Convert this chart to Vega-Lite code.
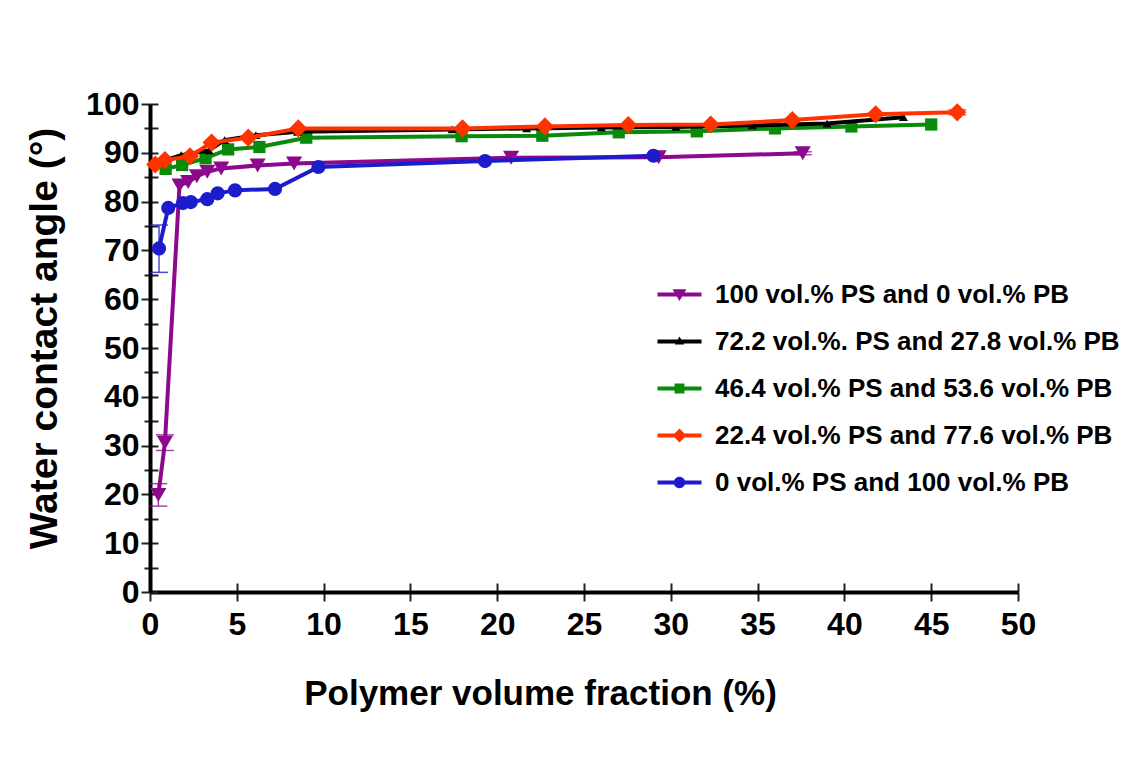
{
  "$schema": "https://vega.github.io/schema/vega-lite/v6.json",
  "width": 868,
  "height": 488,
  "autosize": {"type": "none"},
  "padding": {"left": 150, "top": 104, "right": 119, "bottom": 168},
  "background": "white",
  "config": {
    "view": {"stroke": null},
    "font": "Liberation Sans"
  },
  "data": {
    "values": [
      {"series": "100 vol.% PS and 0 vol.% PB", "x": 0.48, "y": 19.9, "lo": 17.6, "hi": 22.2},
      {"series": "100 vol.% PS and 0 vol.% PB", "x": 0.86, "y": 30.6, "lo": 29.0, "hi": 32.2},
      {"series": "100 vol.% PS and 0 vol.% PB", "x": 1.7, "y": 83.3},
      {"series": "100 vol.% PS and 0 vol.% PB", "x": 2.2, "y": 84.0},
      {"series": "100 vol.% PS and 0 vol.% PB", "x": 2.7, "y": 85.2},
      {"series": "100 vol.% PS and 0 vol.% PB", "x": 3.3, "y": 86.1},
      {"series": "100 vol.% PS and 0 vol.% PB", "x": 4.1, "y": 86.8},
      {"series": "100 vol.% PS and 0 vol.% PB", "x": 6.2, "y": 87.4},
      {"series": "100 vol.% PS and 0 vol.% PB", "x": 8.3, "y": 87.8},
      {"series": "100 vol.% PS and 0 vol.% PB", "x": 20.8, "y": 89.0},
      {"series": "100 vol.% PS and 0 vol.% PB", "x": 29.3, "y": 89.1},
      {"series": "100 vol.% PS and 0 vol.% PB", "x": 37.6, "y": 89.9, "lo": 89.6, "hi": 90.2},
      {"series": "46.4 vol.% PS and 53.6 vol.% PB", "x": 0.9, "y": 86.7},
      {"series": "46.4 vol.% PS and 53.6 vol.% PB", "x": 1.85, "y": 87.5},
      {"series": "46.4 vol.% PS and 53.6 vol.% PB", "x": 3.2, "y": 88.9},
      {"series": "46.4 vol.% PS and 53.6 vol.% PB", "x": 4.5, "y": 90.7},
      {"series": "46.4 vol.% PS and 53.6 vol.% PB", "x": 6.3, "y": 91.2},
      {"series": "46.4 vol.% PS and 53.6 vol.% PB", "x": 9.0, "y": 93.1},
      {"series": "46.4 vol.% PS and 53.6 vol.% PB", "x": 17.95, "y": 93.4},
      {"series": "46.4 vol.% PS and 53.6 vol.% PB", "x": 22.6, "y": 93.5},
      {"series": "46.4 vol.% PS and 53.6 vol.% PB", "x": 27.0, "y": 94.2},
      {"series": "46.4 vol.% PS and 53.6 vol.% PB", "x": 31.5, "y": 94.4},
      {"series": "46.4 vol.% PS and 53.6 vol.% PB", "x": 36.0, "y": 95.0},
      {"series": "46.4 vol.% PS and 53.6 vol.% PB", "x": 40.4, "y": 95.4},
      {"series": "46.4 vol.% PS and 53.6 vol.% PB", "x": 45.0, "y": 95.8},
      {"series": "72.2 vol.%. PS and 27.8 vol.% PB", "x": 0.4, "y": 88.0},
      {"series": "72.2 vol.%. PS and 27.8 vol.% PB", "x": 1.8, "y": 89.5},
      {"series": "72.2 vol.%. PS and 27.8 vol.% PB", "x": 3.4, "y": 90.5},
      {"series": "72.2 vol.%. PS and 27.8 vol.% PB", "x": 4.3, "y": 92.6},
      {"series": "72.2 vol.%. PS and 27.8 vol.% PB", "x": 6.1, "y": 93.6},
      {"series": "72.2 vol.%. PS and 27.8 vol.% PB", "x": 8.5, "y": 94.3},
      {"series": "72.2 vol.%. PS and 27.8 vol.% PB", "x": 17.4, "y": 94.8},
      {"series": "72.2 vol.%. PS and 27.8 vol.% PB", "x": 21.7, "y": 95.0},
      {"series": "72.2 vol.%. PS and 27.8 vol.% PB", "x": 26.0, "y": 95.2},
      {"series": "72.2 vol.%. PS and 27.8 vol.% PB", "x": 30.3, "y": 95.3},
      {"series": "72.2 vol.%. PS and 27.8 vol.% PB", "x": 34.7, "y": 95.6},
      {"series": "72.2 vol.%. PS and 27.8 vol.% PB", "x": 39.0, "y": 96.0},
      {"series": "72.2 vol.%. PS and 27.8 vol.% PB", "x": 43.4, "y": 97.3},
      {"series": "0 vol.% PS and 100 vol.% PB", "x": 0.52, "y": 70.4, "lo": 65.5, "hi": 75.2},
      {"series": "0 vol.% PS and 100 vol.% PB", "x": 1.05, "y": 78.7},
      {"series": "0 vol.% PS and 100 vol.% PB", "x": 1.9, "y": 79.7},
      {"series": "0 vol.% PS and 100 vol.% PB", "x": 2.35, "y": 79.9},
      {"series": "0 vol.% PS and 100 vol.% PB", "x": 3.3, "y": 80.5},
      {"series": "0 vol.% PS and 100 vol.% PB", "x": 3.9, "y": 81.7},
      {"series": "0 vol.% PS and 100 vol.% PB", "x": 4.9, "y": 82.3},
      {"series": "0 vol.% PS and 100 vol.% PB", "x": 7.2, "y": 82.6},
      {"series": "0 vol.% PS and 100 vol.% PB", "x": 9.7, "y": 87.1},
      {"series": "0 vol.% PS and 100 vol.% PB", "x": 19.3, "y": 88.3},
      {"series": "0 vol.% PS and 100 vol.% PB", "x": 29.0, "y": 89.4},
      {"series": "22.4 vol.% PS and 77.6 vol.% PB", "x": 0.3, "y": 87.6},
      {"series": "22.4 vol.% PS and 77.6 vol.% PB", "x": 0.86, "y": 88.5},
      {"series": "22.4 vol.% PS and 77.6 vol.% PB", "x": 2.3, "y": 89.3},
      {"series": "22.4 vol.% PS and 77.6 vol.% PB", "x": 3.55, "y": 92.1},
      {"series": "22.4 vol.% PS and 77.6 vol.% PB", "x": 5.66, "y": 93.1},
      {"series": "22.4 vol.% PS and 77.6 vol.% PB", "x": 8.54, "y": 95.0},
      {"series": "22.4 vol.% PS and 77.6 vol.% PB", "x": 18.0, "y": 95.0},
      {"series": "22.4 vol.% PS and 77.6 vol.% PB", "x": 22.75, "y": 95.4},
      {"series": "22.4 vol.% PS and 77.6 vol.% PB", "x": 27.55, "y": 95.7},
      {"series": "22.4 vol.% PS and 77.6 vol.% PB", "x": 32.3, "y": 95.8},
      {"series": "22.4 vol.% PS and 77.6 vol.% PB", "x": 37.0, "y": 96.7},
      {"series": "22.4 vol.% PS and 77.6 vol.% PB", "x": 41.8, "y": 97.9},
      {"series": "22.4 vol.% PS and 77.6 vol.% PB", "x": 46.5, "y": 98.3, "lo": 97.8, "hi": 98.8}
    ]
  },
  "encoding": {
    "x": {"field": "x", "type": "quantitative", "scale": {"domain": [0, 50], "nice": false}, "axis": null},
    "y": {"field": "y", "type": "quantitative", "scale": {"domain": [0, 100], "nice": false}, "axis": null},
    "color": {
      "field": "series",
      "type": "nominal",
      "scale": {
        "domain": ["100 vol.% PS and 0 vol.% PB", "72.2 vol.%. PS and 27.8 vol.% PB", "46.4 vol.% PS and 53.6 vol.% PB", "22.4 vol.% PS and 77.6 vol.% PB", "0 vol.% PS and 100 vol.% PB"],
        "range": ["#8c088c", "#000000", "#0a8a0a", "#ff3300", "#1c1ccc"]
      },
      "legend": {
        "title": null, "orient": "none", "legendX": 514, "legendY": 175, "padding": 0,
        "symbolSize": 961, "symbolStrokeWidth": 0, "symbolOpacity": 1, "rowPadding": 18,
        "labelFont": "Liberation Sans", "labelFontSize": 26, "labelFontWeight": "bold", "labelColor": "black", "labelOffset": 20, "labelLimit": 0
      }
    }
  },
  "layer": [
    {
      "transform": [{"filter": "false"}],
      "mark": {"type": "point", "filled": true, "opacity": 1},
      "encoding": {
        "shape": {
          "field": "series",
          "type": "nominal",
          "scale": {
            "domain": ["100 vol.% PS and 0 vol.% PB", "72.2 vol.%. PS and 27.8 vol.% PB", "46.4 vol.% PS and 53.6 vol.% PB", "22.4 vol.% PS and 77.6 vol.% PB", "0 vol.% PS and 100 vol.% PB"],
            "range": [
              "M-1.42,-0.13H1.42V0.13H-1.42Z M-0.45,-0.34H0.45L0,0.42Z",
              "M-1.42,-0.13H1.42V0.13H-1.42Z M0.3,0.2H-0.3L0,-0.32Z",
              "M-1.42,-0.13H1.42V0.13H-1.42Z M-0.32,-0.32H0.32V0.32H-0.32Z",
              "M-1.42,-0.13H1.42V0.13H-1.42Z M-0.45,0L0,-0.45L0.45,0L0,0.45Z",
              "M-1.42,-0.13H1.42V0.13H-1.42Z M-0.37,0A0.37,0.37 0 1,1 0.37,0A0.37,0.37 0 1,1 -0.37,0Z"
            ]
          },
          "legend": {
            "title": null, "orient": "none", "legendX": 514, "legendY": 175, "padding": 0,
            "symbolSize": 961, "symbolStrokeWidth": 0, "symbolOpacity": 1, "rowPadding": 18,
            "labelFont": "Liberation Sans", "labelFontSize": 26, "labelFontWeight": "bold", "labelColor": "black", "labelOffset": 20, "labelLimit": 0
          }
        }
      }
    },
    {
      "mark": {"type": "point", "opacity": 0},
      "encoding": {
        "x": {"field": "x", "type": "quantitative", "scale": {"domain": [0, 50], "nice": false},
          "axis": {"orient": "bottom", "offset": -9, "values": [0, 5, 10, 15, 20, 25, 30, 35, 40, 45, 50], "domain": false, "labels": false, "grid": false, "title": null, "ticks": true, "tickSize": 9, "tickWidth": 2, "tickColor": "#222222"}},
        "y": {"field": "y", "type": "quantitative", "scale": {"domain": [0, 100], "nice": false},
          "axis": {"orient": "left", "offset": -8, "values": [0, 5, 10, 15, 20, 25, 30, 35, 40, 45, 50, 55, 60, 65, 70, 75, 80, 85, 90, 95, 100], "domain": false, "labels": false, "grid": false, "title": null, "ticks": true,
            "tickSize": 8, "tickWidth": 2, "tickColor": "#222222"}}
      }
    },
    {
      "mark": {"type": "point", "opacity": 0},
      "encoding": {
        "x": {"field": "x", "type": "quantitative", "scale": {"domain": [0, 50], "nice": false},
          "axis": {"orient": "bottom", "values": [0, 5, 10, 15, 20, 25, 30, 35, 40, 45, 50], "grid": false, "domain": true, "domainWidth": 4, "domainColor": "black",
            "ticks": true, "tickSize": 9, "tickWidth": 2, "tickColor": "#222222",
            "labelFont": "Liberation Sans", "labelFontSize": 32, "labelFontWeight": "bold", "labelColor": "black", "labelPadding": 8, "labelFlush": false,
            "title": "Polymer volume fraction (%)", "titleFont": "Liberation Sans", "titleFontSize": 35, "titleFontWeight": "bold", "titleColor": "black",
            "titleX": 390, "titleY": 101, "titleBaseline": "middle", "titleAlign": "center"}},
        "y": {"field": "y", "type": "quantitative", "scale": {"domain": [0, 100], "nice": false},
          "axis": {"orient": "left", "values": [0, 5, 10, 15, 20, 25, 30, 35, 40, 45, 50, 55, 60, 65, 70, 75, 80, 85, 90, 95, 100], "grid": false, "domain": true, "domainWidth": 4, "domainColor": "black",
            "ticks": true, "tickSize": {"condition": {"test": "datum.value % 10 === 0", "value": 9}, "value": 6}, "tickWidth": 2, "tickColor": "#222222",
            "labelExpr": "datum.value % 10 === 0 ? datum.label : ''",
            "labelFont": "Liberation Sans", "labelFontSize": 32, "labelFontWeight": "bold", "labelColor": "black", "labelPadding": 2, "labelFlush": false,
            "title": "Water contact angle (°)", "titleFont": "Liberation Sans", "titleFontSize": 39, "titleFontWeight": "bold", "titleColor": "black",
            "titleX": -106, "titleY": 234, "titleAngle": -90, "titleBaseline": "middle", "titleAlign": "center"}}
      }
    },
    {
      "transform": [{"filter": {"field": "series", "equal": "100 vol.% PS and 0 vol.% PB"}}],
      "layer": [
        {"mark": {"type": "line", "strokeWidth": 4}, "encoding": {}},
        {"transform": [{"filter": "isValid(datum.lo)"}], "mark": {"type": "rule", "strokeWidth": 1.5, "opacity": 0.75}, "encoding": {"y": {"field": "lo", "type": "quantitative"}, "y2": {"field": "hi"}}},
        {"transform": [{"filter": "isValid(datum.lo)"}], "mark": {"type": "tick", "orient": "horizontal", "size": 18, "thickness": 1.5, "opacity": 0.75}, "encoding": {"y": {"field": "lo", "type": "quantitative"}}},
        {"transform": [{"filter": "isValid(datum.hi)"}], "mark": {"type": "tick", "orient": "horizontal", "size": 18, "thickness": 1.5, "opacity": 0.75}, "encoding": {"y": {"field": "hi", "type": "quantitative"}}},
        {"mark": {"type": "point", "shape": "triangle-down", "filled": true, "opacity": 1, "size": 260}, "encoding": {}}
      ]
    },
    {
      "transform": [{"filter": {"field": "series", "equal": "46.4 vol.% PS and 53.6 vol.% PB"}}],
      "layer": [
        {"mark": {"type": "line", "strokeWidth": 4}, "encoding": {}},
        {"mark": {"type": "point", "shape": "square", "filled": true, "opacity": 1, "size": 150}, "encoding": {}}
      ]
    },
    {
      "transform": [{"filter": {"field": "series", "equal": "72.2 vol.%. PS and 27.8 vol.% PB"}}],
      "layer": [
        {"mark": {"type": "line", "strokeWidth": 4}, "encoding": {}},
        {"mark": {"type": "point", "shape": "triangle-up", "filled": true, "opacity": 1, "size": 80}, "encoding": {}}
      ]
    },
    {
      "transform": [{"filter": {"field": "series", "equal": "0 vol.% PS and 100 vol.% PB"}}],
      "layer": [
        {"mark": {"type": "line", "strokeWidth": 4}, "encoding": {}},
        {"transform": [{"filter": "isValid(datum.lo)"}], "mark": {"type": "rule", "strokeWidth": 1.5, "opacity": 0.8}, "encoding": {"y": {"field": "lo", "type": "quantitative"}, "y2": {"field": "hi"}}},
        {"transform": [{"filter": "isValid(datum.lo)"}], "mark": {"type": "tick", "orient": "horizontal", "size": 18, "thickness": 1.5, "opacity": 0.8}, "encoding": {"y": {"field": "lo", "type": "quantitative"}}},
        {"transform": [{"filter": "isValid(datum.hi)"}], "mark": {"type": "tick", "orient": "horizontal", "size": 18, "thickness": 1.5, "opacity": 0.8}, "encoding": {"y": {"field": "hi", "type": "quantitative"}}},
        {"mark": {"type": "point", "shape": "circle", "filled": true, "opacity": 1, "size": 200}, "encoding": {}}
      ]
    },
    {
      "transform": [{"filter": {"field": "series", "equal": "22.4 vol.% PS and 77.6 vol.% PB"}}],
      "layer": [
        {"mark": {"type": "line", "strokeWidth": 4}, "encoding": {}},
        {"transform": [{"filter": "isValid(datum.lo)"}], "mark": {"type": "rule", "strokeWidth": 1.5, "opacity": 0.8}, "encoding": {"y": {"field": "lo", "type": "quantitative"}, "y2": {"field": "hi"}}},
        {"transform": [{"filter": "isValid(datum.lo)"}], "mark": {"type": "tick", "orient": "horizontal", "size": 18, "thickness": 1.5, "opacity": 0.8}, "encoding": {"y": {"field": "lo", "type": "quantitative"}}},
        {"transform": [{"filter": "isValid(datum.hi)"}], "mark": {"type": "tick", "orient": "horizontal", "size": 18, "thickness": 1.5, "opacity": 0.8}, "encoding": {"y": {"field": "hi", "type": "quantitative"}}},
        {"mark": {"type": "point", "shape": "diamond", "filled": true, "opacity": 1, "size": 330}, "encoding": {}}
      ]
    }
  ],
  "resolve": {"axis": {"x": "independent", "y": "independent"}}
}
